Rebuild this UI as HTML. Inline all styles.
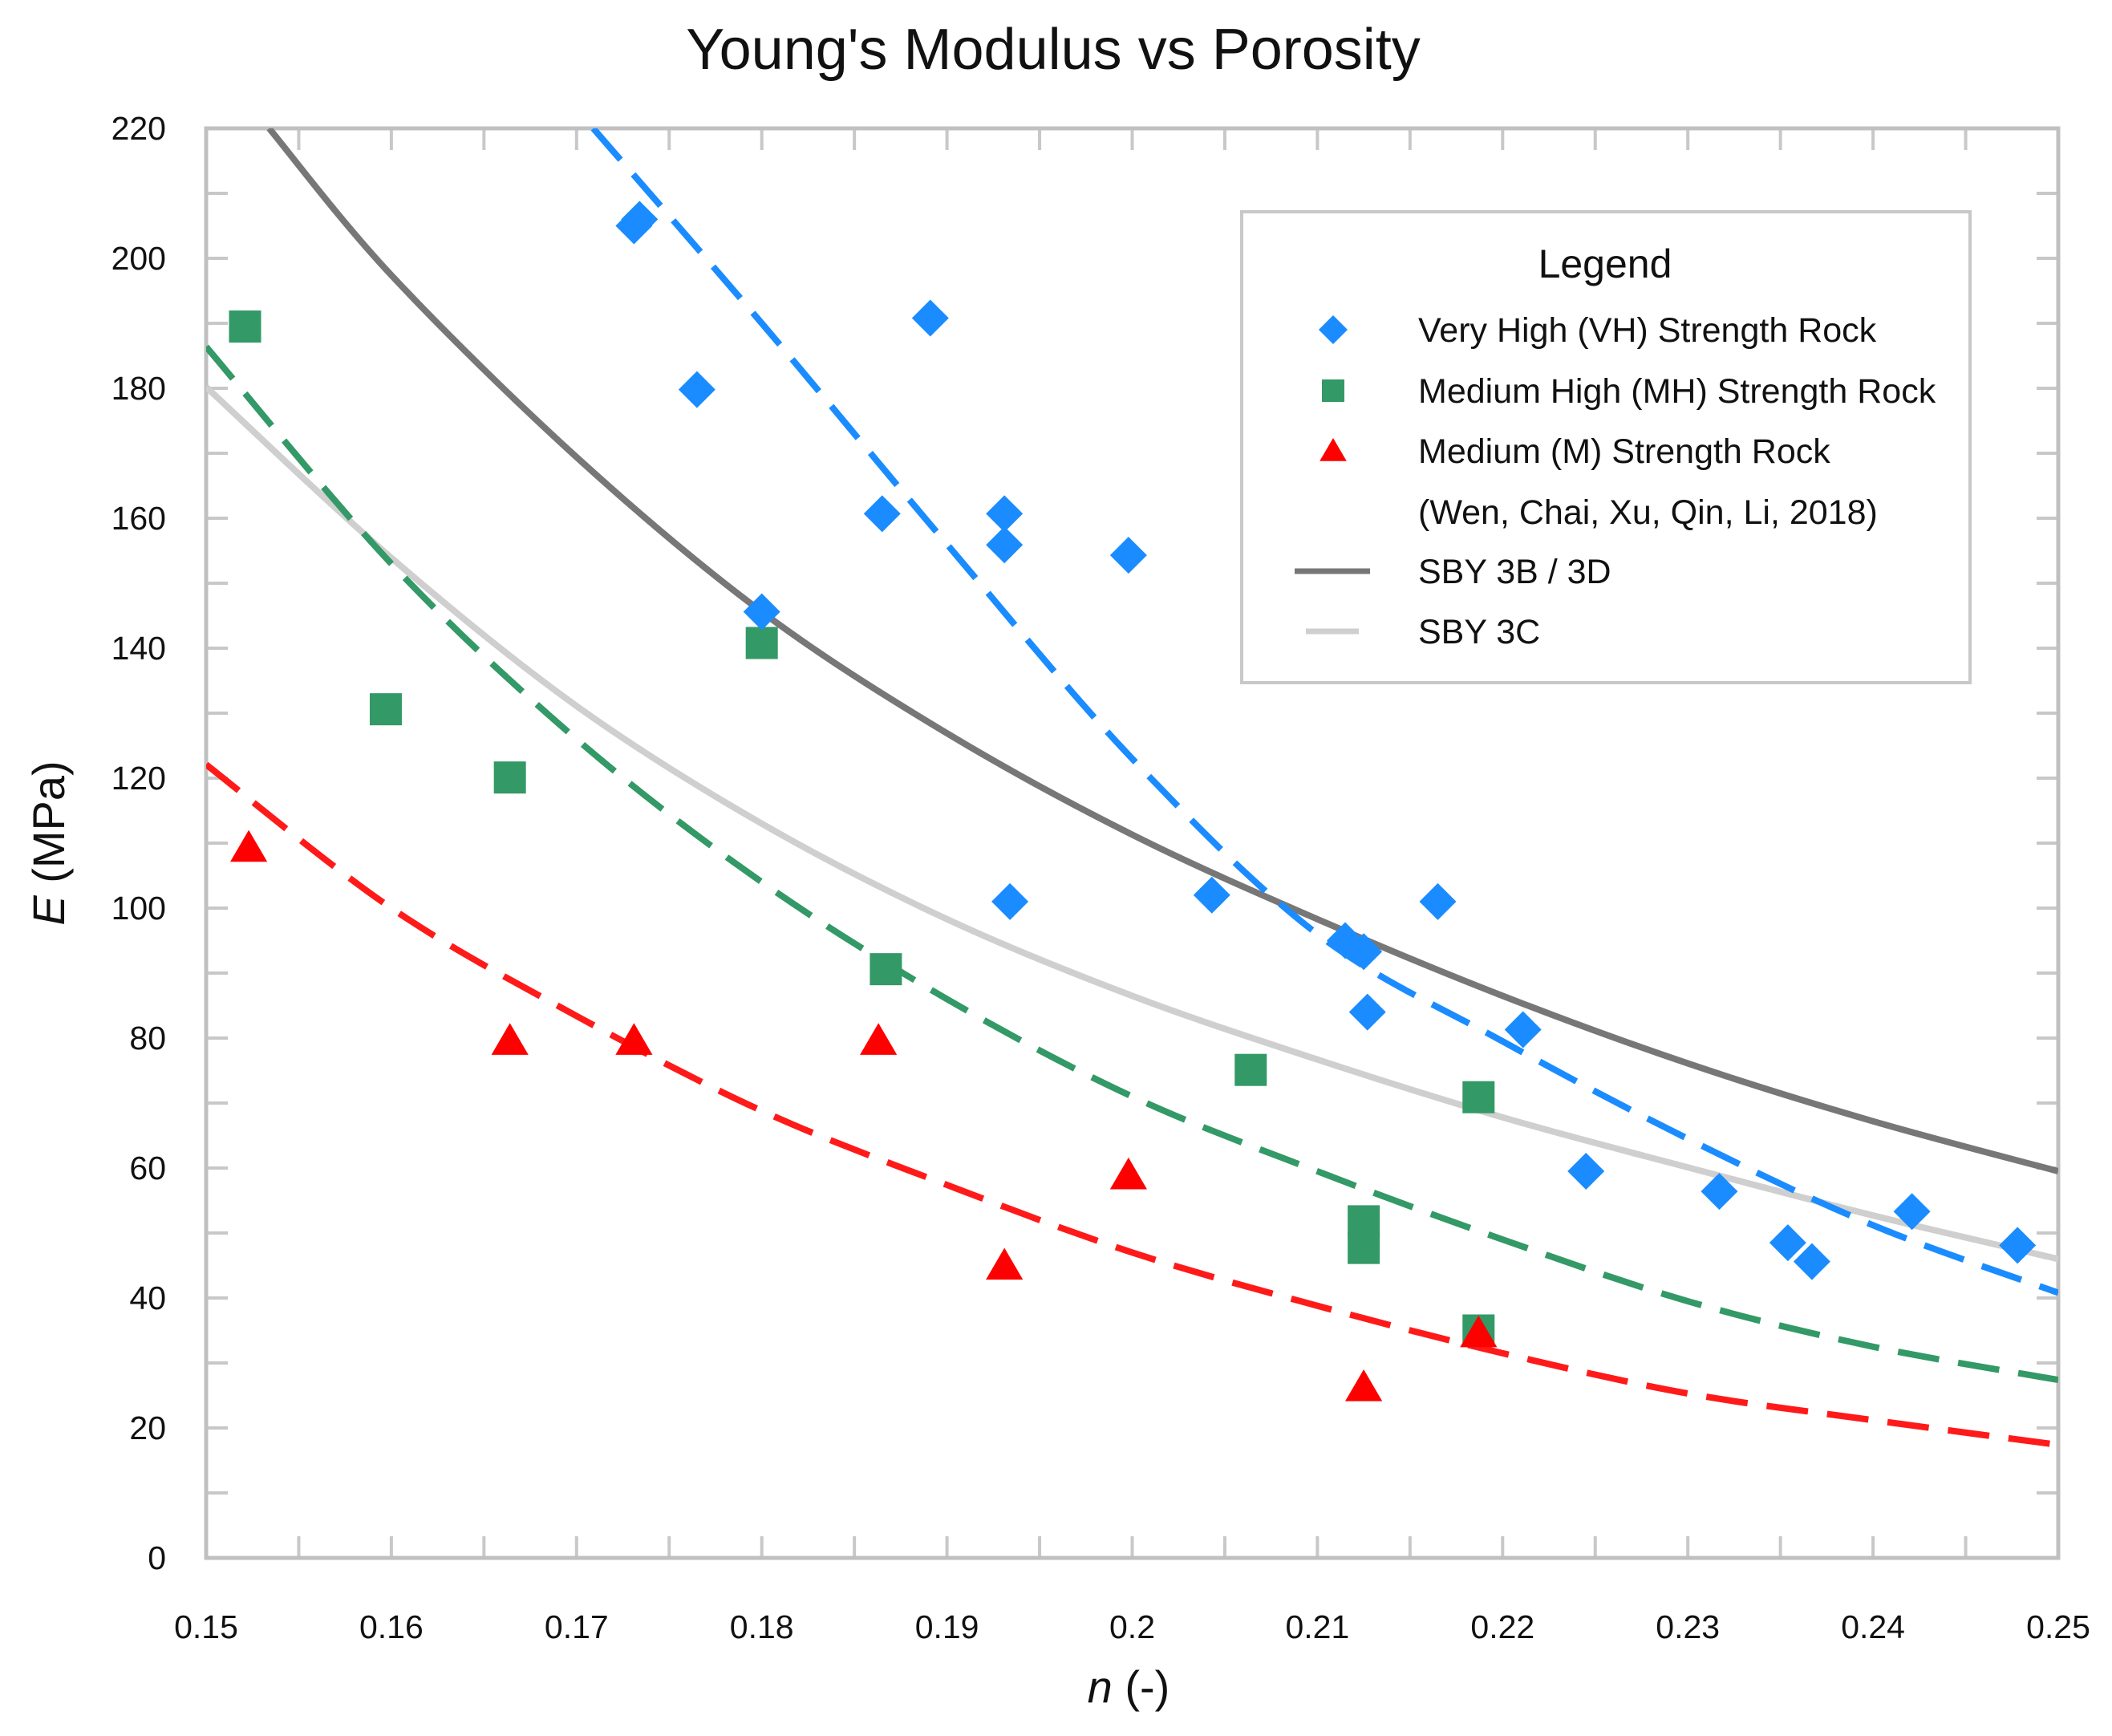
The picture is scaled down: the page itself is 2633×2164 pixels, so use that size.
<!DOCTYPE html>
<html><head><meta charset="utf-8"><style>
html,body{margin:0;padding:0;background:#fff;}
svg{display:block;font-family:"Liberation Sans",sans-serif;}
</style></head><body>
<svg id="chart" width="2633" height="2164" viewBox="0 0 2633 2164">
<text x="1313" y="86" font-size="72" text-anchor="middle" fill="#111">Young's Modulus vs Porosity</text>
<g id="axes"></g>
<g id="curves"></g>
<g id="points"></g>
<g id="legend"></g>
<text x="1407" y="2122" font-size="56" text-anchor="middle" fill="#111"><tspan font-style="italic">n</tspan> (-)</text>
<text transform="translate(80,1051) rotate(-90)" font-size="56" text-anchor="middle" fill="#111"><tspan font-style="italic">E</tspan> (MPa)</text>
</svg>
<script>
const xTicks=[0.15,0.16,0.17,0.18,0.19,0.2,0.21,0.22,0.23,0.24,0.25];
const xTickLabels=["0.15","0.16","0.17","0.18","0.19","0.2","0.21","0.22","0.23","0.24","0.25"];
const yTicks=[0,20,40,60,80,100,120,140,160,180,200,220];
const vhX=[0.1731,0.1734,0.1765,0.1891,0.1865,0.1931,0.1931,0.1998,0.180,0.1934,0.2043,0.2115,0.2125,0.2127,0.2165,0.2211,0.2245,0.2317,0.2354,0.2367,0.2421,0.2478];
const vhY=[205,206,179.8,190.8,160.7,160.7,155.9,154.3,145.6,101,102,95,93.3,84,101,81.3,59.5,56.4,48.5,45.6,53.3,48.1];
const mhX=[0.1521,0.1597,0.1664,0.180,0.1867,0.2064,0.2187,0.2125,0.2125,0.2187];
const mhY=[189.5,130.6,120.1,140.8,90.6,75.1,70.9,51.8,47.7,35];
const mX=[0.1523,0.1664,0.1731,0.1863,0.1998,0.1931,0.2125,0.2187];
const mY=[109.3,79.6,79.6,79.6,58.9,45,26.3,34.6];
const sby3bX=[0.1534,0.16,0.17,0.18,0.19,0.20,0.21,0.22,0.23,0.24,0.25];
const sby3bY=[220,197.4,169.4,145.6,126.9,111.3,98.3,86.5,76.1,67.2,59.5];
const sby3cX=[0.15,0.16,0.17,0.18,0.19,0.20,0.21,0.22,0.23,0.24,0.25];
const sby3cY=[180.2,153.9,131.1,113,98.3,86.5,76.7,67.8,60.1,52.7,46];
const vhFitX=[0.1709,0.18,0.19,0.20,0.21,0.22,0.23,0.24,0.25];
const vhFitY=[220,190,156,123,96,79.5,64.5,51.2,40.8];
const mhFitX=[0.15,0.16,0.17,0.18,0.19,0.20,0.21,0.22,0.23,0.24,0.25];
const mhFitY=[186.4,153,126,104,86,71,59.5,49,39.5,32.5,27.4];
const mFitX=[0.15,0.16,0.17,0.18,0.19,0.20,0.21,0.22,0.23,0.24,0.25];
const mFitY=[122.1,100,83.4,68.8,57.4,47,38.8,31.5,25.3,21.2,17.4];

const NS="http://www.w3.org/2000/svg";
const X0=257,X1=2566,Y0=1942,Y1=160;
const sx=v=>X0+(v-0.15)/0.1*(X1-X0);
const sy=v=>Y0-v/220*(Y0-Y1);
function mk(tag,attrs,parent){const e=document.createElementNS(NS,tag);for(const k in attrs)e.setAttribute(k,attrs[k]);parent.appendChild(e);return e;}
const axes=document.getElementById('axes');
for(let i=0;i<=22;i++){const y=sy(i*10);
 let t=mk('line',{x1:X0,x2:X0+27,y1:y,y2:y,stroke:'#c8c8c8','stroke-width':4},axes);
 
 t=mk('line',{x1:X1-27,x2:X1,y1:y,y2:y,stroke:'#c8c8c8','stroke-width':4},axes);
 }
for(let i=0;i<=20;i++){const x=sx(0.15+i*0.005);
 let t=mk('line',{x1:x,x2:x,y1:Y0,y2:Y0-27,stroke:'#c8c8c8','stroke-width':4},axes);
 
 t=mk('line',{x1:x,x2:x,y1:Y1,y2:Y1+27,stroke:'#c8c8c8','stroke-width':4},axes);
 }
let fr=mk('rect',{x:X0,y:Y1,width:X1-X0,height:Y0-Y1,fill:'none',stroke:'#c0c0c0','stroke-width':5},axes);

yTicks.forEach(v=>{const t=mk('text',{x:207,y:sy(v)+14,'font-size':41,'text-anchor':'end',fill:'#111'},axes);t.textContent=String(v);
 });
xTicks.forEach((v,i)=>{const t=mk('text',{x:sx(v),y:2042,'font-size':41,'text-anchor':'middle',fill:'#111'},axes);t.textContent=xTickLabels[i];
 });

const clip=mk('clipPath',{id:'pc'},document.getElementById('chart'));
mk('rect',{x:X0,y:Y1,width:X1-X0,height:Y0-Y1},clip);
function smooth(xs,ys){const p=xs.map((x,i)=>[sx(x),sy(ys[i])]);let d='M'+p[0][0]+','+p[0][1];
 for(let i=0;i<p.length-1;i++){const a=p[Math.max(0,i-1)],b=p[i],c=p[i+1],e=p[Math.min(p.length-1,i+2)];
  d+=` C${b[0]+(c[0]-a[0])/6},${b[1]+(c[1]-a[1])/6} ${c[0]-(e[0]-b[0])/6},${c[1]-(e[1]-b[1])/6} ${c[0]},${c[1]}`;}return d;}
const curves=document.getElementById('curves');
function curve(xs,ys,col,dash,name){const e=mk('path',{d:smooth(xs,ys),fill:'none',stroke:col,'stroke-width':8,'clip-path':'url(#pc)'},curves);
 if(dash)e.setAttribute('stroke-dasharray','52 24');
 }
curve(sby3bX,sby3bY,'#777',false,'sby-3b-3d-line');
curve(sby3cX,sby3cY,'#cfcfcf',false,'sby-3c-line');
curve(mhFitX,mhFitY,'#339966',true,'mh-trend-line');
curve(mFitX,mFitY,'#ff1a1a',true,'m-trend-line');
curve(vhFitX,vhFitY,'#1a8cff',true,'vh-trend-line');

const pts=document.getElementById('points');
function diamond(cx,cy,r,parent){return mk('polygon',{points:`${cx},${cy-r} ${cx+r},${cy} ${cx},${cy+r} ${cx-r},${cy}`,fill:'#1a8cff'},parent);}
function square(cx,cy,r,parent){return mk('rect',{x:cx-r,y:cy-r,width:2*r,height:2*r,fill:'#339966'},parent);}
function tri(cx,cy,r,parent){return mk('polygon',{points:`${cx},${cy-r} ${cx+r*1.05},${cy+r*0.8} ${cx-r*1.05},${cy+r*0.8}`,fill:'#ff0000'},parent);}
mhX.forEach((x,i)=>{const e=square(sx(x),sy(mhY[i]),20,pts);});
mX.forEach((x,i)=>{const e=tri(sx(x),sy(mY[i]),22,pts);});
vhX.forEach((x,i)=>{const e=diamond(sx(x),sy(vhY[i]),23,pts);});

const lg=document.getElementById('legend');
let lb=mk('rect',{x:1548,y:264,width:908,height:587,fill:'#fff',stroke:'#c8c8c8','stroke-width':4},lg);

let lt=mk('text',{x:2001,y:346,'font-size':50,'text-anchor':'middle',fill:'#111'},lg);lt.textContent='Legend';

const labels=['Very High (VH) Strength Rock','Medium High (MH) Strength Rock','Medium (M) Strength Rock','(Wen, Chai, Xu, Qin, Li, 2018)','SBY 3B / 3D','SBY 3C'];
const rowsY=[411,487,562,638,712,787];
labels.forEach((s,i)=>{const t=mk('text',{x:1768,y:rowsY[i]+15,'font-size':43,fill:'#111'},lg);t.textContent=s;
 });
let m=diamond(1662,411,18,lg);
m=square(1662,487,14,lg);
m=tri(1662,562,16,lg);
m=mk('line',{x1:1614,x2:1708,y1:712,y2:712,stroke:'#777','stroke-width':7},lg);
m=mk('line',{x1:1628,x2:1694,y1:787,y2:787,stroke:'#cfcfcf','stroke-width':7},lg);
</script>
</body></html>
